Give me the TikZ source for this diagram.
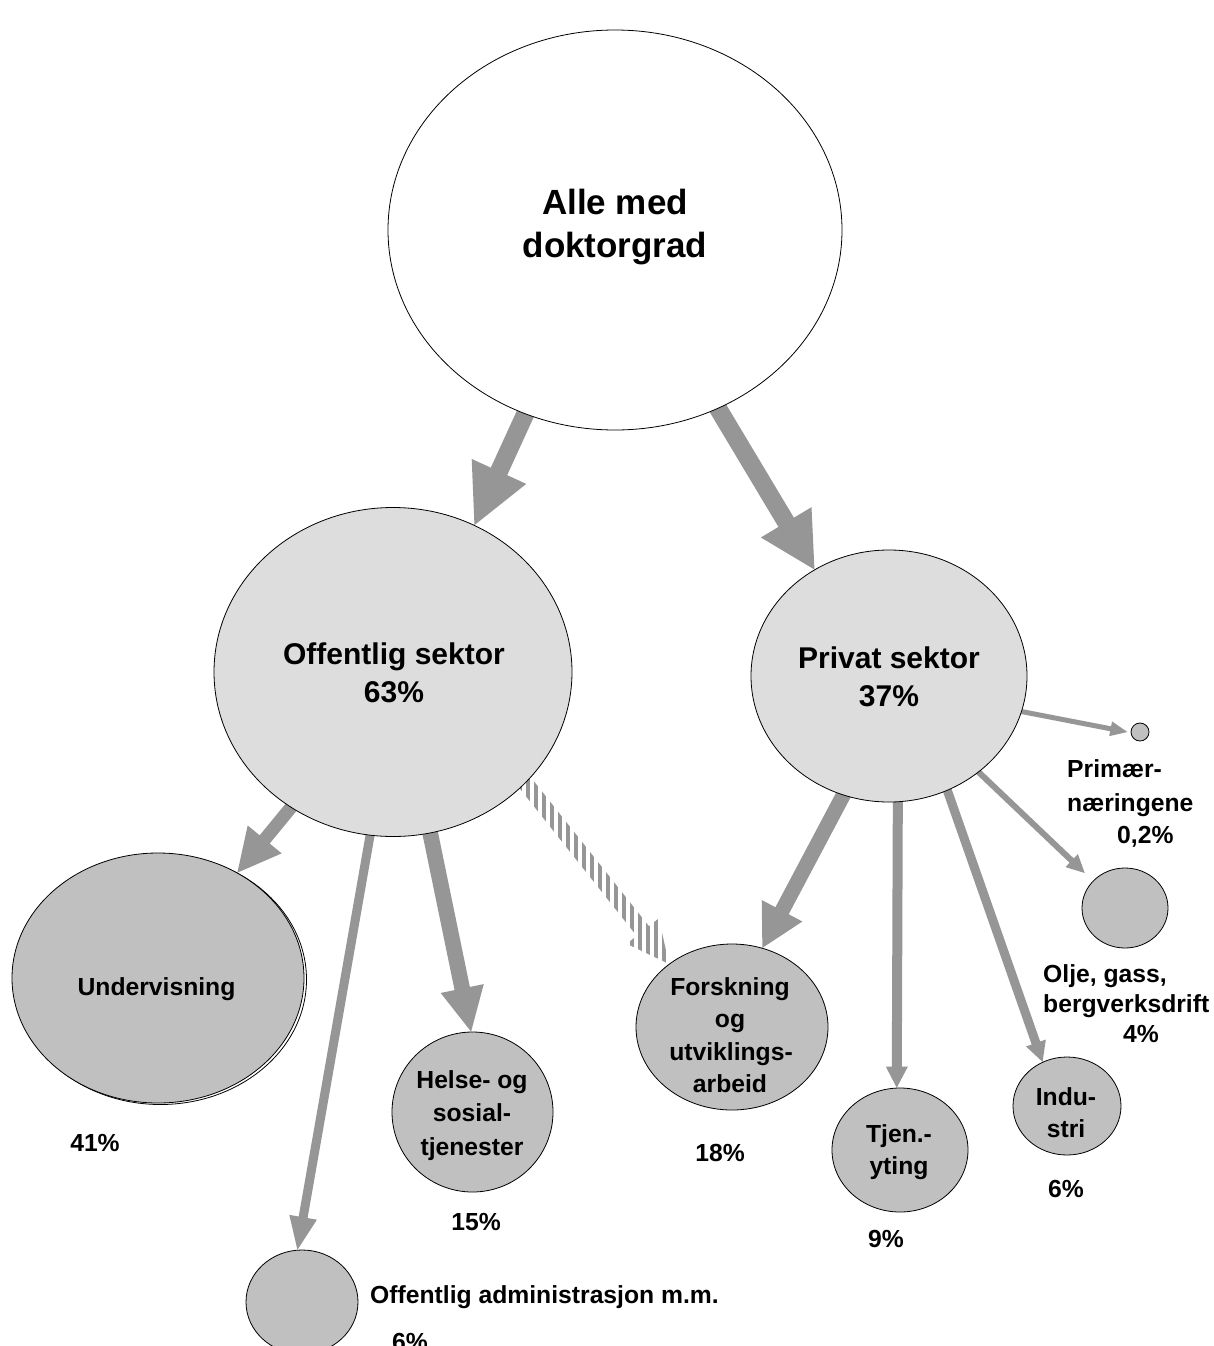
\documentclass[tikz,border=0pt]{standalone}
\usepackage{fontspec}
\setmainfont{Liberation Sans}
\usetikzlibrary{calc,shapes.geometric,patterns.meta}
\definecolor{arrowgray}{HTML}{969696}
\definecolor{sectorfill}{HTML}{DDDDDD}
\definecolor{subfill}{HTML}{C0C0C0}
\pgfdeclarelayer{bglayer}
\pgfdeclarelayer{arrowlayer}
\pgfsetlayers{bglayer,arrowlayer,main}
% #1 style, #2 from, #3 tip, #4 half shaft, #5 half head, #6 head length
\newcommand{\blockarrow}[6]{%
  \coordinate (ba-B) at (#3);
  \coordinate (ba-A0) at (#2);
  \coordinate (ba-A) at ($(ba-A0)!-12pt!(ba-B)$);
  \coordinate (ba-H) at ($(ba-B)!#6!(ba-A)$);
  \path[#1] ($(ba-A)!#4!90:(ba-B)$) -- ($(ba-H)!#4!-90:(ba-A)$)
     -- ($(ba-H)!#5!-90:(ba-A)$) -- (ba-B) -- ($(ba-H)!#5!90:(ba-A)$)
     -- ($(ba-H)!#4!90:(ba-A)$) -- ($(ba-A)!#4!-90:(ba-B)$) -- cycle;
}
\begin{document}
\begin{tikzpicture}[x=1pt,y=-1pt,
  oval/.style={ellipse, draw=black, line width=0.8pt, inner sep=0pt},
  sz/.style n args={2}{minimum width=#1pt, minimum height=#2pt},
  bigtxt/.style={font=\bfseries\fontsize{35}{42}\selectfont, anchor=base, inner sep=0pt},
  midtxt/.style={font=\bfseries\fontsize{30}{38}\selectfont, anchor=base, inner sep=0pt},
  lbl/.style={font=\bfseries\fontsize{24.7}{32}\selectfont, anchor=base, inner sep=0pt},
  lblw/.style={lbl, anchor=base west},
  blockfill/.style={fill=arrowgray},
  hatchfill/.style={pattern={Lines[angle=90,distance=8pt,line width=4pt]}, pattern color=arrowgray},
]
\begin{pgfonlayer}{bglayer}
\fill[white] (0,0) rectangle (1213,1346);
\end{pgfonlayer}
\useasboundingbox (0,0) rectangle (1213,1346);

% ellipses
\node[oval, fill=white, sz={454}{400}] (alle) at (615,230) {};
\node[oval, fill=sectorfill, sz={358}{329}] (off) at (393,672) {};
\node[oval, fill=sectorfill, sz={276}{252}] (priv) at (889,676) {};
\node[oval, sz={292}{250}] (underv2) at (160.5,979.5) {};
\node[oval, fill=subfill, sz={292}{250}] (underv) at (158,978) {};
\node[oval, fill=subfill, sz={161}{160}] (helse) at (472.5,1112) {};
\node[oval, fill=subfill, sz={192}{166}] (fou) at (732,1027) {};
\node[oval, fill=subfill, sz={136}{124}] (tjen) at (900,1150) {};
\node[oval, fill=subfill, sz={108}{98}] (indu) at (1067,1106) {};
\node[oval, fill=subfill, sz={86}{80}] (olje) at (1125,908) {};
\node[oval, fill=subfill, sz={18}{18}] (prim) at (1140,732) {};
\node[oval, fill=subfill, sz={112}{104}] (adm) at (302,1302) {};

\coordinate (oljetip) at ($(olje.center)!1.27!(olje.139)$);
\coordinate (primtip) at ($(prim.center)!1.35!(prim.180)$);

% arrows
\begin{pgfonlayer}{arrowlayer}
\blockarrow{blockfill}{alle.-116}{off.61}{9pt}{30pt}{59pt}
\blockarrow{blockfill}{alle.-60}{priv.125}{9pt}{29.5pt}{55pt}
\blockarrow{blockfill}{off.-127}{underv.53}{6.5pt}{22pt}{43pt}
\blockarrow{blockfill}{off.-98}{adm.95}{4.5pt}{14pt}{33pt}
\blockarrow{blockfill}{off.-77}{helse.91}{7.8pt}{22pt}{44pt}
\blockarrow{hatchfill}{off.-40}{fou.135}{7.8pt}{20.5pt}{42pt}
\blockarrow{blockfill}{priv.-111}{fou.69}{7.5pt}{23pt}{42pt}
\blockarrow{blockfill}{priv.-86}{tjen.93}{5pt}{11pt}{21pt}
\blockarrow{blockfill}{priv.-63}{indu.119}{4.5pt}{10.5pt}{20pt}
\blockarrow{blockfill}{priv.-47}{oljetip}{3pt}{9pt}{18pt}
\blockarrow{blockfill}{priv.-15}{primtip}{2.5pt}{7.5pt}{17pt}
\end{pgfonlayer}

% texts
\node[bigtxt] (t-alle1) at (615,214) {Alle med};
\node[bigtxt] (t-alle2) at (615,257) {doktorgrad};
\node[midtxt] (t-off1) at (394,664) {Offentlig sektor};
\node[midtxt] (t-off2) at (394,702) {63\%};
\node[midtxt] (t-priv1) at (889,668) {Privat sektor};
\node[midtxt] (t-priv2) at (889,706) {37\%};

\node[lbl] (t-underv) at (156.5,995) {Undervisning};
\node[lbl] (p-underv) at (95,1151) {41\%};

\node[lbl] (t-helse1) at (472,1088) {Helse- og};
\node[lbl] (t-helse2) at (472,1121.5) {sosial-};
\node[lbl] (t-helse3) at (472,1155) {tjenester};
\node[lbl] (p-helse) at (476,1230) {15\%};

\node[lbl] (t-fou1) at (730,995) {Forskning};
\node[lbl] (t-fou2) at (730,1027) {og};
\node[lbl] (t-fou3) at (731,1060) {utviklings-};
\node[lbl] (t-fou4) at (730,1092.5) {arbeid};
\node[lbl] (p-fou) at (720,1161) {18\%};

\node[lbl] (t-tjen1) at (899,1142) {Tjen.-};
\node[lbl] (t-tjen2) at (899,1174) {yting};
\node[lbl] (p-tjen) at (886,1247) {9\%};

\node[lbl] (t-indu1) at (1066,1105) {Indu-};
\node[lbl] (t-indu2) at (1066,1137) {stri};
\node[lbl] (p-indu) at (1066,1197) {6\%};

\node[lblw] (t-olje1) at (1043,982) {Olje, gass,};
\node[lblw] (t-olje2) at (1043,1012) {bergverksdrift};
\node[lblw] (p-olje) at (1123,1042) {4\%};

\node[lblw] (t-prim1) at (1067,777) {Primær-};
\node[lblw] (t-prim2) at (1067,811) {næringene};
\node[lblw] (p-prim) at (1117,843) {0,2\%};

\node[lblw] (t-adm) at (370,1303) {Offentlig administrasjon m.m.};
\node[lbl] (p-adm) at (410,1350) {6\%};
\end{tikzpicture}
\end{document}
